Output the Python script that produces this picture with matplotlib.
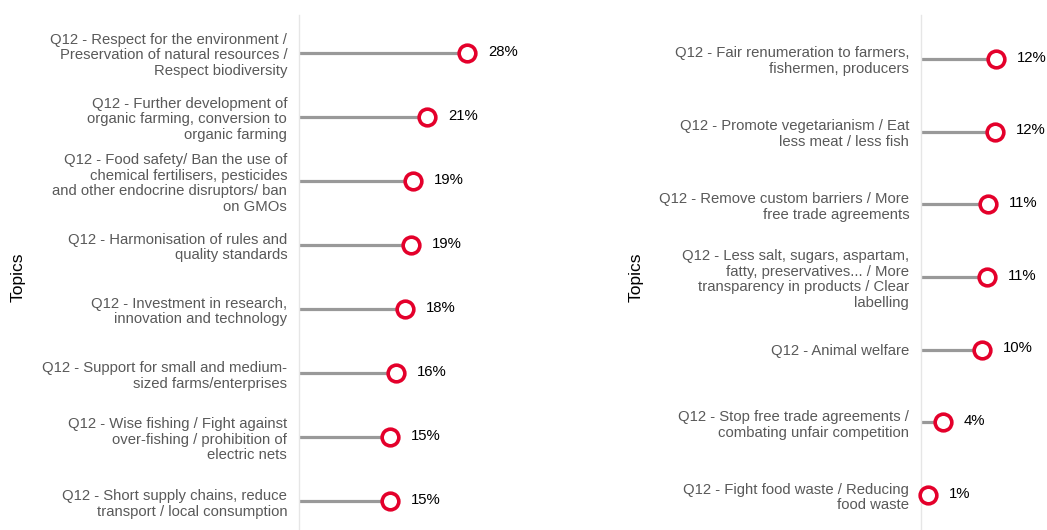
import matplotlib
matplotlib.use("Agg")
import matplotlib.pyplot as plt

plt.rcParams['font.family'] = ['Liberation Sans', 'DejaVu Sans']

left_topics = [
    "Q12 - Respect for the environment /\nPreservation of natural resources /\nRespect biodiversity",
    "Q12 - Further development of\norganic farming, conversion to\norganic farming",
    "Q12 - Food safety/ Ban the use of\nchemical fertilisers, pesticides\nand other endocrine disruptors/ ban\non GMOs",
    "Q12 - Harmonisation of rules and\nquality standards",
    "Q12 - Investment in research,\ninnovation and technology",
    "Q12 - Support for small and medium-\nsized farms/enterprises",
    "Q12 - Wise fishing / Fight against\nover-fishing / prohibition of\nelectric nets",
    "Q12 - Short supply chains, reduce\ntransport / local consumption",
]
left_values = [28.0, 21.4, 19.0, 18.7, 17.6, 16.2, 15.2, 15.2]

right_topics = [
    "Q12 - Fair renumeration to farmers,\nfishermen, producers",
    "Q12 - Promote vegetarianism / Eat\nless meat / less fish",
    "Q12 - Remove custom barriers / More\nfree trade agreements",
    "Q12 - Less salt, sugars, aspartam,\nfatty, preservatives... / More\ntransparency in products / Clear\nlabelling",
    "Q12 - Animal welfare",
    "Q12 - Stop free trade agreements /\ncombating unfair competition",
    "Q12 - Fight food waste / Reducing\nfood waste",
]
right_values = [12.1, 12.0, 10.8, 10.6, 9.9, 3.6, 1.1]

W, H = 1047, 530
fig = plt.figure(figsize=(W / 100, H / 100), dpi=100)

RED = '#E4002B'
GRAY = '#999999'
TXT = '#595959'
FS = 10.7


def panel(x0, x1, xmax, topics, values, ylim):
    ax = fig.add_axes([x0 / W, 0, (x1 - x0) / W, (H - 15) / H])
    ys = list(range(len(topics)))
    ax.hlines(ys, 0, values, color=GRAY, lw=2.3, zorder=1)
    ax.plot(values, ys, 'o', ms=12, mfc='white', mec=RED, mew=2.6, zorder=3,
            clip_on=False)
    for v, y in zip(values, ys):
        ax.annotate(f"{v:.0f}%", (v, y), xytext=(15, 1), textcoords='offset points',
                    ha='left', va='center', fontsize=FS, color='black')
    ax.set_xlim(0, xmax)
    ax.set_ylim(*ylim)
    ax.set_yticks(ys)
    ax.set_yticklabels(topics, fontsize=FS, color=TXT, ha='right',
                       multialignment='right', linespacing=1.17)
    ax.tick_params(axis='y', length=0, pad=8.5)
    ax.set_xticks([])
    for s in ['top', 'right', 'bottom']:
        ax.spines[s].set_visible(False)
    ax.spines['left'].set_color('#e6e6e6')
    ax.spines['left'].set_linewidth(1)
    ax.set_facecolor('none')
    return ax


panel(299, 599, 50.0, left_topics, left_values, (7.45, -0.594))
panel(921, 1046, 20.2, right_topics, right_values, (6.48, -0.605))

fig.text(18 / W, 1 - 277 / H, 'Topics', rotation=90, ha='center', va='center',
         fontsize=12.5, color='black')
fig.text(636 / W, 1 - 277 / H, 'Topics', rotation=90, ha='center', va='center',
         fontsize=12.5, color='black')

fig.savefig('out.png', dpi=100, facecolor='white')
